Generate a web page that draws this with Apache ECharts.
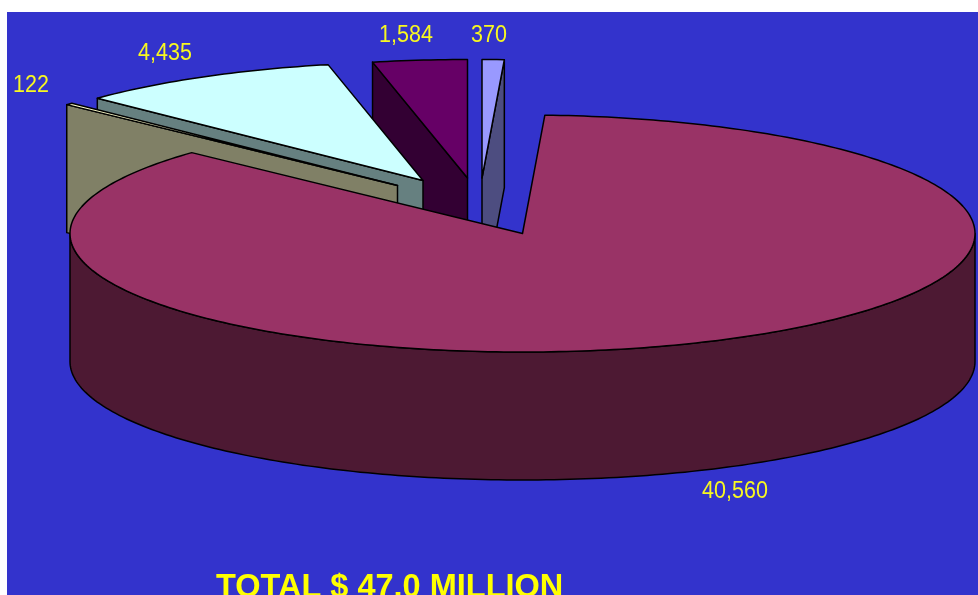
<!DOCTYPE html>
<html>
<head>
<meta charset="utf-8">
<style>
  html, body { margin: 0; padding: 0; background: #fff; overflow: hidden; }
  #chart { width: 978px; height: 595px; }
</style>
<script src="https://cdn.jsdelivr.net/npm/echarts@6/dist/echarts.min.js"></script>
</head>
<body>
<div id="chart"></div>
<script>
// Slices in clockwise order, starting from the top of the pie (thousands of dollars).
const values = [370, 40560, 122, 4435, 1584];
const totalTitle = 'TOTAL $ 47.0 MILLION';

// Slice colours: top surface and the shaded side of each slice.
const topColors = ['#9999FF', '#993366', '#FFFFCC', '#CCFFFF', '#660066'];
const sideColors = ['#4D4D80', '#4D1933', '#808066', '#668080', '#330033'];

// How far each slice is pulled out of the pie, in pixels.
const explodeX = [-40.5, 0, -125, -99.5, -55];
const explodeY = [-55.5, 0, -48, -53, -55.5];

// Painting order, back to front.
const paintOrder = [1, 5, 4, 3, 2];

// Centre of each value label.
const labelX = [489, 735, 31, 165, 406];
const labelY = [35, 491, 85, 53, 35];

// Pie projection.
const CX = 522.5, CY = 233.5, RX = 452.5, RY = 118.5, DEPTH = 128;

const total = values.reduce((sum, v) => sum + v, 0);
const startAngles = [];
values.reduce((acc, v, i) => {
  startAngles[i] = acc;
  return acc + v / total * Math.PI * 2;
}, 0);

const rimPoint = (x0, y0, angle, drop) => [
  x0 + RX * Math.sin(angle),
  y0 - RY * Math.cos(angle) + drop
];

const arcPoints = (x0, y0, from, to, drop) => {
  const steps = Math.max(2, Math.ceil((to - from) / (Math.PI / 180)));
  const pts = [];
  for (let k = 0; k <= steps; k++) {
    pts.push(rimPoint(x0, y0, from + (to - from) * k / steps, drop));
  }
  return pts;
};

const face = (points, fill, z2) => ({
  type: 'polygon',
  z2,
  shape: { points },
  style: { fill, stroke: '#000', lineWidth: 1.5, lineJoin: 'round' }
});

function renderSlice(params, api) {
  const i = params.dataIndex;
  const value = api.value(0);
  const from = startAngles[i];
  const to = from + value / total * Math.PI * 2;
  const x0 = CX + explodeX[i];
  const y0 = CY + explodeY[i];
  const z = paintOrder[i] * 10;
  const side = sideColors[i];
  const children = [];

  // Cut faces that turn toward the viewer.
  const cutFace = (angle) => {
    const rim = rimPoint(x0, y0, angle, 0);
    const rimLow = rimPoint(x0, y0, angle, DEPTH);
    return face([[x0, y0], rim, rimLow, [x0, y0 + DEPTH]], side, z);
  };
  if (Math.sin(from) < -1e-6) children.push(cutFace(from));
  if (Math.sin(to) > 1e-6) children.push(cutFace(to));

  // Outer wall along the front half of the rim.
  const wallFrom = Math.max(from, Math.PI / 2);
  const wallTo = Math.min(to, Math.PI * 1.5);
  if (wallTo > wallFrom) {
    const upper = arcPoints(x0, y0, wallFrom, wallTo, 0);
    const lower = arcPoints(x0, y0, wallFrom, wallTo, DEPTH).reverse();
    children.push(face(upper.concat(lower), side, z + 1));
  }

  // Top surface.
  children.push(face([[x0, y0]].concat(arcPoints(x0, y0, from, to, 0)), topColors[i], z + 2));

  // Value label.
  children.push({
    type: 'text',
    z2: 100,
    x: labelX[i],
    y: labelY[i] + 0.5,
    scaleY: 1.12,
    style: {
      text: value.toLocaleString('en-US'),
      fill: '#F8F820',
      font: '21.5px "Liberation Sans", Arial, sans-serif',
      align: 'center',
      verticalAlign: 'middle'
    }
  });

  return { type: 'group', children };
}

const chart = echarts.init(document.getElementById('chart'), null, { renderer: 'canvas' });
chart.setOption({
  animation: false,
  backgroundColor: '#FFFFFF',
  title: {
    text: totalTitle,
    left: 216,
    top: 572,
    padding: 0,
    textStyle: {
      color: '#FFFF00',
      fontFamily: '"Liberation Sans", Arial, sans-serif',
      fontWeight: 'bold',
      fontSize: 32.5
    }
  },
  graphic: [{
    type: 'rect',
    z: -10,
    silent: true,
    shape: { x: 7, y: 12, width: 971, height: 583 },
    style: { fill: '#3333CC' }
  }],
  series: [{
    type: 'custom',
    coordinateSystem: 'none',
    silent: true,
    data: values.map((v) => [v]),
    renderItem: renderSlice
  }]
});
</script>
</body>
</html>
